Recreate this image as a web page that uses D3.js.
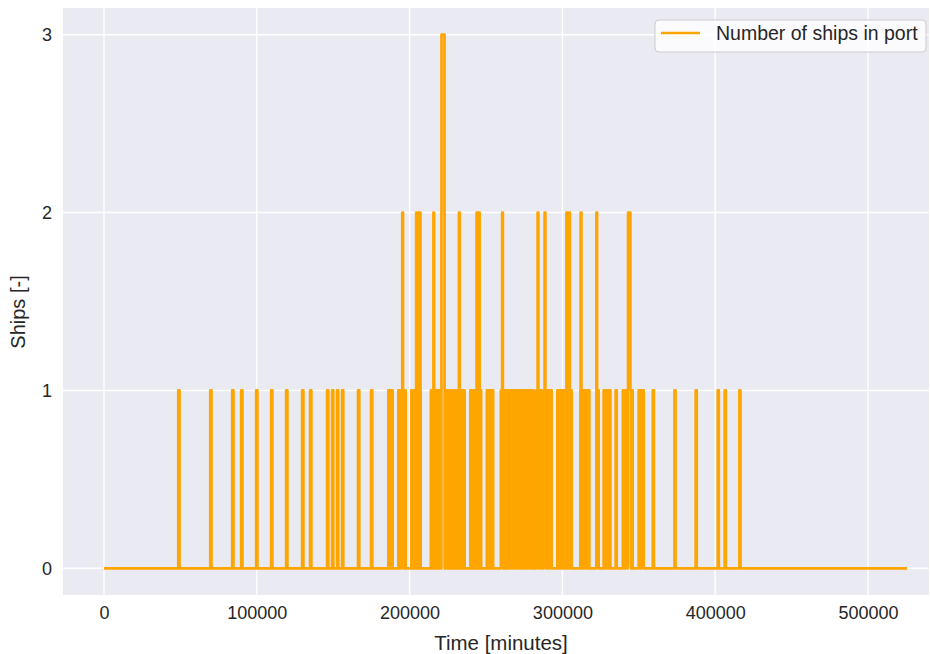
<!DOCTYPE html>
<html>
<head>
<meta charset="utf-8">
<script src="https://cdn.jsdelivr.net/npm/d3@7"></script>
<style>
  html, body { margin: 0; padding: 0; background: #ffffff; }
  svg { display: block; font-family: "Liberation Sans", Arial, sans-serif; }
</style>
</head>
<body>
<svg id="chart" width="930" height="654"></svg>
<script>
// Ship visits to the port over one year: [arrival, departure] in minutes.
const portVisits = [
  [48620, 49420], [69540, 70340], [83910, 84710], [89800, 90600], [99600, 100400],
  [109400, 110200], [119210, 120010], [129670, 130470], [134900, 135700], [146010, 146810],
  [149270, 150070], [152540, 153340], [155810, 156610], [166270, 167070], [174770, 175570],
  [186090, 186900], [187900, 188910],
  [192630, 193600], [194500, 196000], [195200, 195700], [196700, 197410],
  [201150, 202100], [202950, 203700], [204100, 205000], [204300, 204750], [205400, 206300],
  [205600, 206050], [206600, 207240], [206750, 207100],
  [213910, 214900], [215400, 216300], [215600, 216050], [217150, 218100], [219000, 219900],
  [220800, 222950], [220850, 222900], [220900, 222850], [223850, 224850], [225750, 226750],
  [227650, 228650], [229550, 230550], [231950, 233100], [232280, 232780], [234000, 235000],
  [235500, 236030],
  [239770, 240750], [241650, 242600], [243450, 244500], [243850, 244350], [244900, 246000],
  [245350, 245850], [246400, 246830],
  [250560, 251500], [252400, 253350], [253900, 254680],
  [259730, 261200], [260550, 261050], [262100, 263050], [263950, 264950], [265850, 266800],
  [267700, 268700], [269600, 270550], [271450, 272450], [273350, 274300], [275200, 276200],
  [277100, 278050], [278950, 279950], [280600, 281190],
  [282950, 284500], [283800, 284300], [285350, 286300], [287500, 289150], [288350, 288850],
  [290000, 290950], [291850, 292960],
  [296700, 297650], [298550, 299500], [300400, 301350], [302200, 303200], [302650, 303100],
  [303900, 305000], [304400, 304900], [305500, 306060],
  [311740, 312900], [311950, 312450], [313800, 314750], [315650, 316600], [317100, 317630],
  [322220, 323730], [322250, 322700],
  [327000, 327950], [328850, 329800], [330500, 331390],
  [334850, 335550],
  [339560, 340500], [341400, 342300], [342700, 344800], [342970, 344480], [345400, 345970],
  [349910, 350850], [351750, 353190],
  [359150, 359850], [373340, 374040], [387220, 387920], [401670, 402370], [406240, 406940],
  [415840, 416540]
];
const simulationEnd = 525600;           // one year in minutes
const xTicks = [0, 100000, 200000, 300000, 400000, 500000];
const yTicks = [0, 1, 2, 3];
const seriesLabel = "Number of ships in port";
const xLabel = "Time [minutes]";
const yLabel = "Ships [-]";

// Step series of ships in port: +1 at each arrival, -1 at each departure.
const events = [];
portVisits.forEach(([a, d]) => {
  events.push({ t: a, d: 1 });
  events.push({ t: d, d: -1 });
});
events.sort((p, q) => p.t - q.t || p.d - q.d);
const series = [{ t: 0, n: 0 }];
let count = 0;
events.forEach(e => {
  count += e.d;
  series.push({ t: e.t, n: count });
});
series.push({ t: simulationEnd, n: 0 });

const svg = d3.select("#chart");
const plot = { left: 63, right: 929, top: 8, bottom: 595 };

const x = d3.scaleLinear().domain([-26830, 539920]).range([plot.left, plot.right]);
const y = d3.scaleLinear().domain([-0.15, 3.15]).range([plot.bottom, plot.top]);

// Axes background
svg.append("rect")
  .attr("x", plot.left).attr("y", plot.top)
  .attr("width", plot.right - plot.left).attr("height", plot.bottom - plot.top)
  .attr("fill", "#EAEAF2");

// Grid
const grid = svg.append("g").attr("stroke", "#ffffff").attr("stroke-width", 1.4);
grid.selectAll(".vx").data(xTicks).join("line")
  .attr("x1", d => x(d)).attr("x2", d => x(d))
  .attr("y1", plot.top).attr("y2", plot.bottom);
grid.selectAll(".hy").data(yTicks).join("line")
  .attr("x1", plot.left).attr("x2", plot.right)
  .attr("y1", d => y(d)).attr("y2", d => y(d));

// Tick labels through d3 axes (no domain line, no tick marks)
const xAxis = svg.append("g")
  .attr("transform", `translate(0,${plot.bottom})`)
  .call(d3.axisBottom(x).tickValues(xTicks).tickFormat(d3.format("d")).tickSize(0).tickPadding(11));
const yAxis = svg.append("g")
  .attr("transform", `translate(${plot.left},0)`)
  .call(d3.axisLeft(y).tickValues(yTicks).tickFormat(d3.format("d")).tickSize(0).tickPadding(11));
[xAxis, yAxis].forEach(a => {
  a.select(".domain").remove();
  a.selectAll("text")
    .attr("fill", "#262626")
    .style("font-size", "18px")
    .style("font-family", "'Liberation Sans', Arial, sans-serif");
});

// Axis titles
svg.append("text")
  .attr("x", 501).attr("y", 650)
  .attr("text-anchor", "middle").attr("fill", "#262626")
  .style("font-size", "20.5px")
  .text(xLabel);
svg.append("text")
  .attr("transform", `translate(25,312) rotate(-90)`)
  .attr("text-anchor", "middle").attr("fill", "#262626")
  .style("font-size", "20px")
  .text(yLabel);

// Step line
const line = d3.line()
  .x(d => x(d.t))
  .y(d => y(d.n))
  .curve(d3.curveStepAfter);
svg.append("path")
  .datum(series)
  .attr("d", line)
  .attr("fill", "none")
  .attr("stroke", "orange")
  .attr("stroke-width", 2.7)
  .attr("stroke-linejoin", "round");

// Legend
const legend = svg.append("g").attr("transform", "translate(655,20)");
legend.append("rect")
  .attr("width", 271).attr("height", 32).attr("rx", 4)
  .attr("fill", "#ffffff").attr("fill-opacity", 0.8)
  .attr("stroke", "#cccccc").attr("stroke-width", 1);
legend.append("line")
  .attr("x1", 6).attr("x2", 45).attr("y1", 13).attr("y2", 13)
  .attr("stroke", "orange").attr("stroke-width", 2.7);
legend.append("text")
  .attr("x", 61).attr("y", 20)
  .attr("fill", "#262626")
  .style("font-size", "19.5px")
  .text(seriesLabel);
</script>
</body>
</html>
